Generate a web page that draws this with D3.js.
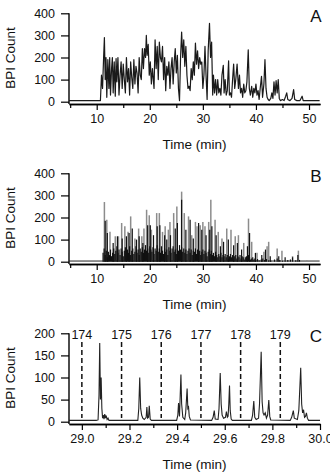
<!DOCTYPE html>
<html>
<head>
<meta charset="utf-8">
<script src="https://cdn.jsdelivr.net/npm/d3@7"></script>
<style>
body { margin: 0; background: #fff; }
svg { display: block; font-family: "Liberation Sans", Arial, sans-serif; }
</style>
</head>
<body>
<svg width="330" height="473"></svg>
<script>
// Panel A: BPI chromatogram (time in min, count)
var timeA = [4.8, 10.7, 10.9, 11.1, 11.3, 11.45, 11.6, 11.75, 11.9, 12.1, 12.3, 12.45, 12.6, 12.8, 12.95, 13.1, 13.3, 13.5, 13.65, 13.8,
    14.0, 14.2, 14.4, 14.6, 14.8, 15.0, 15.2, 15.4, 15.6, 15.8, 16.0, 16.2, 16.4, 16.6, 16.8, 17.0, 17.2, 17.4, 17.6, 17.8,
    18.0, 18.2, 18.4, 18.6, 18.8, 19.0, 19.2, 19.35, 19.5, 19.7, 19.9, 20.1, 20.3, 20.5, 20.8, 21.0, 21.2, 21.4, 21.6, 21.8,
    22.0, 22.2, 22.4, 22.6, 22.8, 23.0, 23.2, 23.4, 23.6, 23.8, 24.0, 24.2, 24.4, 24.6, 24.8, 25.0, 25.2, 25.4, 25.6, 25.8,
    26.0, 26.2, 26.4, 26.6, 26.8, 27.0, 27.2, 27.4, 27.6, 27.8, 28.0, 28.2, 28.4, 28.6, 28.8, 29.0, 29.2, 29.4, 29.6, 29.8,
    30.0, 30.2, 30.4, 30.6, 30.8, 31.0, 31.25, 31.45, 31.65, 31.85, 32.0, 32.2, 32.4, 32.6, 32.8, 33.0, 33.2, 33.4, 33.6, 33.85,
    34.0, 34.2, 34.4, 34.6, 34.85, 35.0, 35.2, 35.4, 35.6, 35.8, 36.0, 36.2, 36.45, 36.7, 36.9, 37.1, 37.3, 37.5, 37.7, 37.9,
    38.1, 38.3, 38.55, 38.75, 38.95, 39.2, 39.4, 39.6, 39.8, 40.0, 40.2, 40.4, 40.6, 40.8, 41.05, 41.25, 41.5, 41.7, 41.9, 42.1,
    42.3, 42.5, 42.8, 43.0, 43.2, 43.4, 43.6, 43.8, 44.0, 44.2, 44.4, 44.6, 45.0, 45.3, 45.6, 45.8, 46.0, 46.4, 46.8, 47.1,
    47.3, 47.7, 48.3, 48.7, 48.9, 50.0, 52.0];
var countA = [5, 5, 120, 60, 200, 290, 100, 200, 20, 190, 60, 200, 30, 150, 200, 40, 180, 25, 195, 90,
    200, 30, 120, 180, 60, 170, 100, 40, 200, 90, 150, 30, 180, 110, 60, 190, 80, 160, 130, 40,
    200, 120, 100, 240, 150, 240, 200, 300, 210, 260, 120, 180, 80, 150, 60, 280, 150, 250, 100, 270,
    200, 180, 250, 100, 200, 50, 160, 120, 180, 60, 150, 200, 80, 180, 240, 130, 210, 60, 5, 200,
    315, 200, 280, 160, 250, 120, 60, 70, 50, 150, 100, 180, 120, 265, 170, 230, 150, 200, 170, 180,
    60, 120, 250, 120, 10, 230, 355, 200, 270, 30, 120, 40, 100, 30, 100, 40, 60, 30, 120, 165,
    40, 100, 30, 50, 185, 30, 40, 20, 100, 170, 60, 100, 170, 60, 120, 40, 60, 20, 80, 40,
    50, 90, 235, 60, 30, 70, 20, 60, 40, 80, 30, 50, 10, 60, 115, 20, 80, 190, 60, 20,
    10, 5, 15, 40, 15, 90, 30, 95, 40, 100, 15, 5, 10, 5, 25, 40, 10, 5, 15, 55,
    10, 5, 5, 25, 5, 5, 5];

// Panel B: spectrum spikes, grey (taller) and black
var timeGrey = [11.45, 11.9, 12.5, 13.5, 14.1, 14.7, 15.3, 15.9, 16.4, 17.2, 17.9, 18.5, 18.9, 19.4, 19.9, 20.3, 21.3, 21.8, 22.4, 22.9,
    23.5, 23.8, 24.5, 25.1, 26.0, 26.5, 27.3, 27.9, 28.6, 28.9, 29.5, 30.0, 30.4, 31.1, 31.5, 32.3, 32.9, 33.6, 34.5, 35.3,
    36.1, 36.7, 37.7, 38.6, 39.2, 40.2, 41.5, 42.1, 42.4, 44.0, 44.9, 46.9, 48.0, 49.6];
var countGrey = [270, 190, 135, 115, 115, 175, 160, 135, 205, 105, 150, 115, 150, 235, 210, 145, 220, 220, 135, 160,
    145, 180, 220, 250, 317, 220, 205, 120, 180, 160, 165, 180, 160, 180, 280, 190, 135, 105, 150, 145,
    115, 120, 85, 195, 90, 40, 45, 70, 90, 60, 50, 25, 50, 8];
var timeBlack = [11.6, 12.0, 13.1, 13.9, 14.8, 15.6, 16.1, 16.7, 17.5, 18.0, 18.7, 19.6, 20.1, 20.7, 21.4, 21.9, 22.8, 23.2, 23.9, 24.8,
    25.2, 26.0, 26.8, 27.6, 28.2, 29.2, 29.8, 30.6, 31.3, 31.7, 32.5, 33.3, 33.9, 34.8, 35.8, 36.5, 37.3, 38.4, 38.8, 39.9,
    41.1, 41.8, 42.7, 44.3, 45.5, 46.9, 47.9];
var countBlack = [185, 130, 85, 115, 105, 115, 130, 150, 100, 115, 85, 165, 165, 120, 160, 165, 120, 100, 120, 150,
    175, 280, 145, 190, 105, 175, 145, 120, 145, 160, 120, 70, 90, 100, 75, 85, 55, 70, 130, 40,
    30, 55, 25, 25, 20, 20, 30];
var timeFloor = [11.2, 11.4, 11.6, 11.8, 12.0, 12.2, 12.4, 12.6, 12.8, 13.0, 13.2, 13.4, 13.6, 13.8, 14.0, 14.2, 14.4, 14.6, 14.8, 15.0,
    15.2, 15.4, 15.6, 15.8, 16.0, 16.2, 16.4, 16.6, 16.8, 17.0, 17.2, 17.4, 17.6, 17.8, 18.0, 18.2, 18.4, 18.6, 18.8, 19.0,
    19.2, 19.4, 19.6, 19.8, 20.0, 20.2, 20.4, 20.6, 20.8, 21.0, 21.2, 21.4, 21.6, 21.8, 22.0, 22.2, 22.4, 22.6, 22.8, 23.0,
    23.2, 23.4, 23.6, 23.8, 24.0, 24.2, 24.4, 24.6, 24.8, 25.0, 25.2, 25.4, 25.6, 25.8, 26.0, 26.2, 26.4, 26.6, 26.8, 27.0,
    27.2, 27.4, 27.6, 27.8, 28.0, 28.2, 28.4, 28.6, 28.8, 29.0, 29.2, 29.4, 29.6, 29.8, 30.0, 30.2, 30.4, 30.6, 30.8, 31.0,
    31.2, 31.4, 31.6, 31.8, 32.0, 32.2, 32.4, 32.6, 32.8, 33.0, 33.2, 33.4, 33.6, 33.8, 34.0, 34.2, 34.4, 34.6, 34.8, 35.0,
    35.2, 35.4, 35.6, 35.8, 36.0, 36.2, 36.4, 36.6, 36.8, 37.0, 37.2, 37.4, 37.6, 37.8, 38.0, 38.2, 38.4, 38.6, 38.8, 39.0,
    39.2, 39.4, 39.6, 39.8, 40.0, 40.3, 40.6, 41.0, 41.3, 41.6, 42.0, 42.4, 42.8, 43.5, 44.0, 44.5, 45.0, 46.0, 46.5, 47.5, 48.2];
var countFloor = [40, 60, 30, 50, 20, 45, 30, 55, 25, 40, 60, 35, 50, 70, 40, 55, 30, 60, 45, 25,
    50, 65, 35, 55, 40, 70, 30, 50, 60, 35, 45, 70, 40, 55, 30, 60, 45, 65, 40, 55,
    75, 50, 60, 40, 70, 55, 45, 65, 35, 60, 50, 75, 45, 60, 40, 70, 50, 35, 60, 45,
    55, 30, 65, 50, 40, 60, 70, 45, 55, 35, 60, 50, 75, 55, 65, 45, 60, 40, 55, 35,
    50, 60, 40, 55, 30, 50, 45, 60, 35, 55, 40, 50, 30, 45, 55, 35, 50, 40, 25, 45,
    55, 35, 50, 30, 40, 25, 45, 30, 20, 35, 25, 40, 20, 30, 25, 35, 20, 30, 15, 25,
    35, 20, 30, 15, 25, 30, 15, 25, 20, 30, 15, 25, 20, 10, 20, 25, 15, 30, 20, 10,
    15, 20, 10, 15, 8, 12, 6, 10, 15, 8, 12, 6, 5, 10, 15, 8, 5, 8, 10, 6, 8];

// Panel C: zoomed trace 29-30 min
var timeC = [28.946, 29.06, 29.068, 29.072, 29.075, 29.078, 29.081, 29.084, 29.087, 29.09, 29.093, 29.096, 29.099, 29.102, 29.106, 29.11, 29.114,
    29.235, 29.239, 29.243, 29.247, 29.251, 29.256, 29.262, 29.27, 29.273, 29.276, 29.28, 29.283, 29.287, 29.292,
    29.398, 29.403, 29.406, 29.41, 29.413, 29.416, 29.419, 29.424, 29.432, 29.436, 29.442, 29.445, 29.448, 29.451, 29.456,
    29.545, 29.551, 29.556, 29.56, 29.572, 29.576, 29.581, 29.585, 29.589, 29.595, 29.603, 29.607, 29.611, 29.614, 29.617, 29.62, 29.623, 29.627, 29.632,
    29.712, 29.717, 29.722, 29.726, 29.732, 29.742, 29.746, 29.753, 29.757, 29.761, 29.765, 29.77, 29.775, 29.78, 29.785, 29.789, 29.793,
    29.875, 29.881, 29.888, 29.892, 29.905, 29.911, 29.919, 29.923, 29.927, 29.931, 29.935, 29.939, 29.943, 29.947, 29.952, 30.0];
var countC = [3, 3, 4, 60, 178, 50, 100, 30, 8, 15, 6, 17, 8, 14, 5, 8, 3,
    3, 30, 100, 30, 15, 8, 5, 10, 33, 8, 10, 36, 6, 3,
    3, 15, 42, 12, 60, 107, 40, 10, 5, 20, 75, 30, 33, 12, 4,
    3, 10, 25, 6, 5, 30, 110, 40, 15, 8, 10, 23, 10, 12, 40, 82, 25, 6, 3,
    3, 15, 47, 10, 5, 8, 40, 158, 45, 20, 15, 20, 8, 15, 49, 12, 4,
    3, 10, 25, 8, 5, 25, 122, 40, 20, 27, 10, 12, 20, 8, 3, 3];

// Fraction labels and their times in panel C
var fractions = ["174", "175", "176", "177", "178", "179"];
var fractionTimes = [29.0, 29.1667, 29.3333, 29.5, 29.6667, 29.8333];

// Axis ticks
var timeTicks = [10, 20, 30, 40, 50];
var timeMinor = [5, 15, 25, 35, 45];
var countTicks = [0, 100, 200, 300, 400];
var timeTicksC = [29.0, 29.2, 29.4, 29.6, 29.8, 30.0];
var timeMinorC = [29.1, 29.3, 29.5, 29.7, 29.9];
var countTicksC = [0, 50, 100, 150, 200];

var svg = d3.select("svg");
var left = 69, right = 320;

// Draw axes, titles and letter for one panel; returns its scales
function makePanel(o, xDomain, yMax, xMajor, xMinor, yTicks, fmt, letter) {
    var x = d3.scaleLinear().domain(xDomain).range([left, right]);
    var y = d3.scaleLinear().domain([0, yMax]).range([o + 101.7, o + 13.3]);
    var g = svg.append("g");

    // minor x ticks
    g.append("g")
        .attr("transform", "translate(0," + (o + 104) + ")")
        .call(d3.axisBottom(x).tickValues(xMinor).tickSize(4).tickSizeOuter(0).tickFormat(""));
    // major x ticks
    g.append("g")
        .attr("transform", "translate(0," + (o + 104) + ")")
        .call(d3.axisBottom(x).tickValues(xMajor).tickSize(6).tickSizeOuter(0).tickPadding(4).tickFormat(fmt));

    // y axis
    var ya = g.append("g")
        .attr("transform", "translate(" + left + ",0)")
        .call(d3.axisLeft(y).tickValues(yTicks).tickSize(8).tickPadding(6));
    ya.select(".domain").remove();
    g.append("line")
        .attr("x1", left).attr("x2", left)
        .attr("y1", o + 13.3).attr("y2", o + 104)
        .attr("stroke", "#000").attr("stroke-width", 1.4);

    g.selectAll(".domain").attr("stroke-width", 1.4);
    g.selectAll(".tick line").attr("stroke-width", 1.2);
    g.selectAll(".tick text")
        .attr("font-size", "12.5px")
        .attr("font-family", "Liberation Sans, Arial, sans-serif")
        .attr("fill", "#111");

    g.append("text")
        .attr("x", (left + right) / 2)
        .attr("y", o + 149)
        .attr("text-anchor", "middle")
        .attr("font-size", "13.5px")
        .attr("fill", "#111")
        .text("Time (min)");

    g.append("text")
        .attr("transform", "translate(15," + (o + 58) + ") rotate(-90)")
        .attr("text-anchor", "middle")
        .attr("font-size", "13.5px")
        .attr("fill", "#111")
        .text("BPI Count");

    g.append("text")
        .attr("x", 316)
        .attr("y", o + 21.5)
        .attr("text-anchor", "middle")
        .attr("font-size", "17px")
        .attr("fill", "#111")
        .text(letter);

    return { x: x, y: y };
}

// Panel A
var pA = makePanel(0, [4.78, 52.07], 400, timeTicks, timeMinor, countTicks, d3.format("d"), "A");
var dataA = timeA.map(function (t, i) { return [t, countA[i]]; });
svg.append("path")
    .datum(dataA)
    .attr("fill", "none")
    .attr("stroke", "#1a1a1a")
    .attr("stroke-width", 1.2)
    .attr("stroke-linejoin", "round")
    .attr("d", d3.line()
        .x(function (d) { return pA.x(d[0]); })
        .y(function (d) { return pA.y(d[1]); }));

// Panel B
var pB = makePanel(160, [4.78, 52.07], 400, timeTicks, timeMinor, countTicks, d3.format("d"), "B");
svg.append("line")
    .attr("x1", pB.x(4.8)).attr("x2", pB.x(52))
    .attr("y1", pB.y(3)).attr("y2", pB.y(3))
    .attr("stroke", "#222").attr("stroke-width", 1);

function spikes(times, counts, colour, width) {
    svg.append("g").selectAll("line")
        .data(times.map(function (t, i) { return [t, counts[i]]; }))
        .enter().append("line")
        .attr("x1", function (d) { return pB.x(d[0]); })
        .attr("x2", function (d) { return pB.x(d[0]); })
        .attr("y1", pB.y(0))
        .attr("y2", function (d) { return pB.y(d[1]); })
        .attr("stroke", colour)
        .attr("stroke-width", width);
}
spikes(timeGrey, countGrey, "#8c8c8c", 1.5);
spikes(timeFloor, countFloor, "#111", 1.2);
spikes(timeBlack, countBlack, "#111", 1.2);

// Panel C
var pC = makePanel(320, [28.946, 30.0], 200, timeTicksC, timeMinorC, countTicksC, d3.format(".1f"), "C");
var dataC = timeC.map(function (t, i) { return [t, countC[i]]; });
svg.append("path")
    .datum(dataC)
    .attr("fill", "none")
    .attr("stroke", "#222")
    .attr("stroke-width", 1.1)
    .attr("d", d3.line()
        .x(function (d) { return pC.x(d[0]); })
        .y(function (d) { return pC.y(d[1]); }));

// dashed fraction markers
var frac = svg.append("g");
frac.selectAll("line")
    .data(fractionTimes)
    .enter().append("line")
    .attr("x1", function (d) { return pC.x(d); })
    .attr("x2", function (d) { return pC.x(d); })
    .attr("y1", 320 + 22)
    .attr("y2", 320 + 98)
    .attr("stroke", "#111")
    .attr("stroke-width", 1.5)
    .attr("stroke-dasharray", "5,3");
frac.selectAll("text")
    .data(fractions)
    .enter().append("text")
    .attr("x", function (d, i) { return pC.x(fractionTimes[i]); })
    .attr("y", 320 + 18.5)
    .attr("text-anchor", "middle")
    .attr("font-size", "12.5px")
    .attr("fill", "#111")
    .text(function (d) { return d; });
</script>
</body>
</html>
